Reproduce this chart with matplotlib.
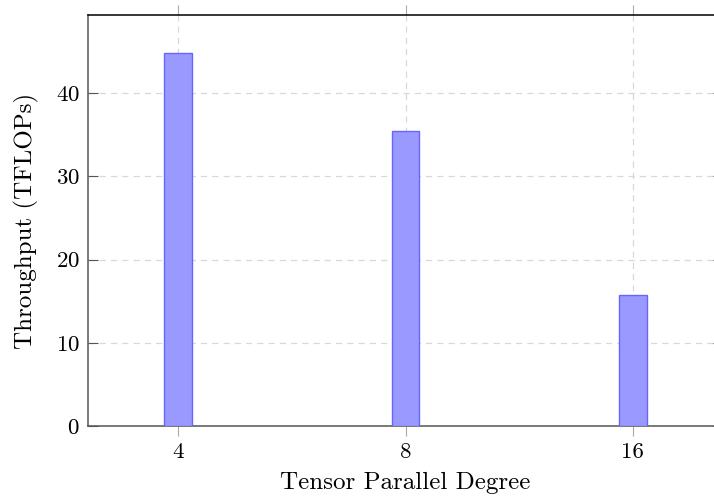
import matplotlib.pyplot as plt

plt.rcParams['font.family'] = ['cmr10', 'DejaVu Serif']
plt.rcParams['mathtext.fontset'] = 'cm'
plt.rcParams['axes.formatter.use_mathtext'] = True

degrees = ['4', '8', '16']
throughput = [44.8, 35.5, 15.8]
yticks = [0, 10, 20, 30, 40]

fig = plt.figure(figsize=(7.14, 5.0), dpi=100)
ax = fig.add_axes([88 / 714, 74 / 500, 635 / 714, 411 / 500])

pos = list(range(len(degrees)))
ax.bar(pos, throughput, width=0.12, color='#9999ff', edgecolor='#6666ff',
       linewidth=1.0, zorder=3)

ax.set_xlim(-0.396, len(degrees) - 1 + 0.396)
ax.set_ylim(0, 49.4)
ax.set_xticks(pos)
ax.set_xticklabels(degrees)
ax.set_yticks(yticks)

ax.grid(True, color='#d8d8d8', linestyle=(0, (5, 4)), linewidth=0.9, zorder=0)

ax.tick_params(axis='x', direction='out', length=7, color='#aaaaaa',
               top=True, labelsize=16.5, pad=5)
ax.tick_params(axis='y', direction='in', length=7, color='#555555',
               right=True, labelsize=16.5, pad=6)

for side in ['left', 'bottom']:
    ax.spines[side].set_color('#555555')
ax.spines['top'].set_color('black')
for s in ax.spines.values():
    s.set_linewidth(1.1)

ax.set_xlabel('Tensor Parallel Degree', fontsize=18, labelpad=7)
ax.set_ylabel('Throughput (TFLOPs)', fontsize=18, labelpad=12)

fig.savefig('out.png', dpi=100)
